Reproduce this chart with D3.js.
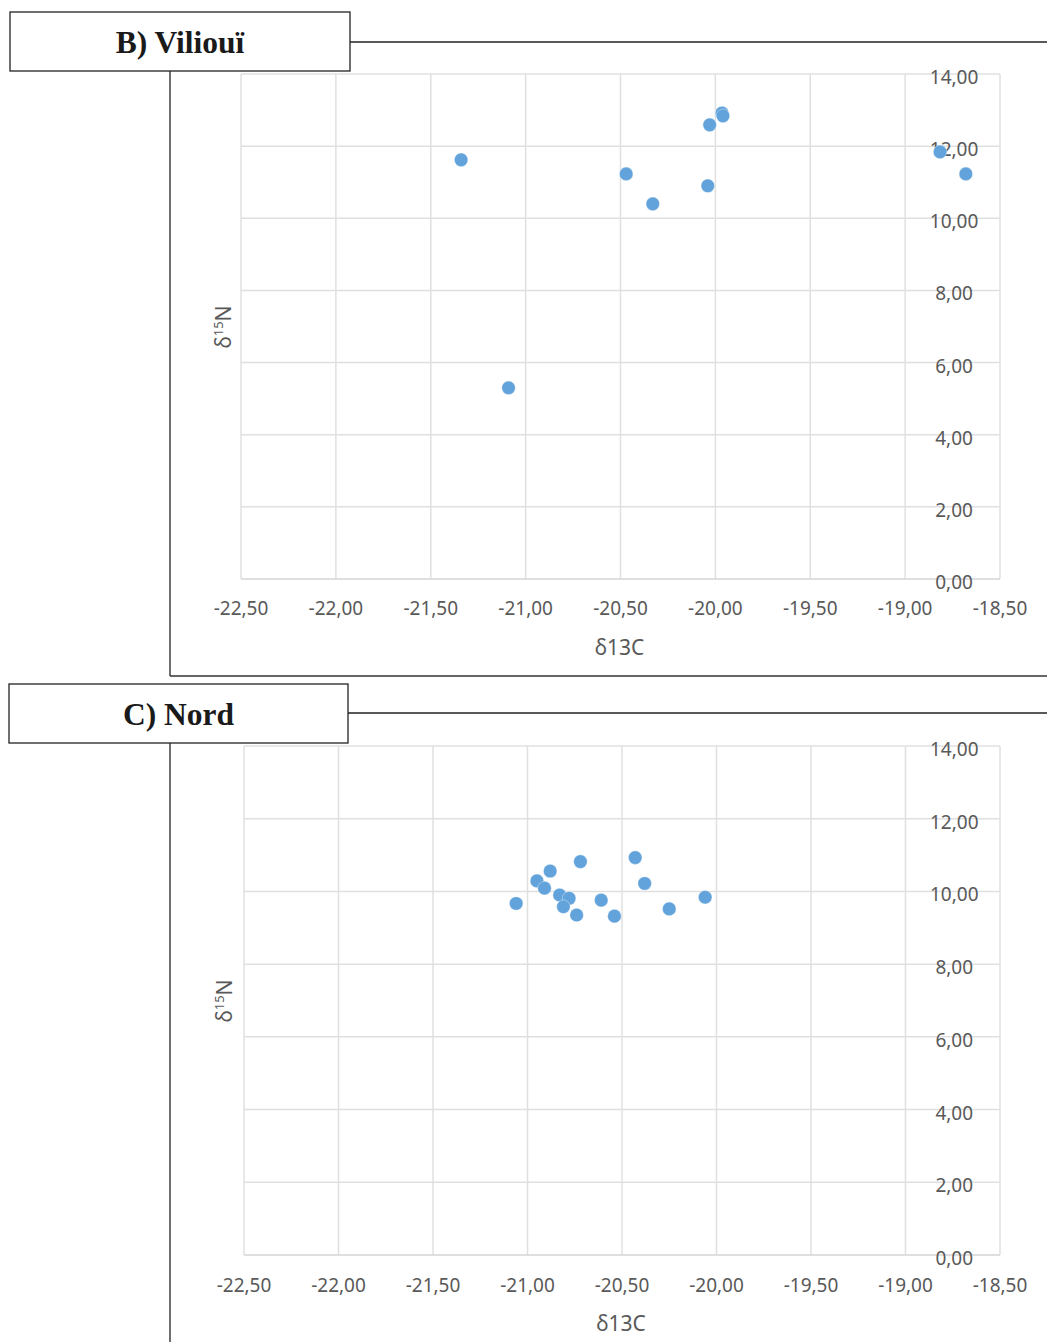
<!DOCTYPE html>
<html>
<head>
<meta charset="utf-8">
<script src="https://cdn.jsdelivr.net/npm/d3@7"></script>
<style>
html,body{margin:0;padding:0;background:#fff;}
svg{display:block;}
</style>
</head>
<body>
<svg id="chart" width="1047" height="1342"></svg>
<script>
// ---- data ----
const xTicks = [-22.5, -22, -21.5, -21, -20.5, -20, -19.5, -19, -18.5];
const yTicks = [0, 2, 4, 6, 8, 10, 12, 14];
const titleB = "B) Viliouï";
const titleC = "C) Nord";
const xLabel = "δ13C";
const viliouiX = [-21.34, -21.09, -20.47, -20.33, -20.04, -20.03, -19.965, -19.96, -18.816, -18.68];
const viliouiY = [11.62, 5.30, 11.23, 10.40, 10.90, 12.59, 12.92, 12.84, 11.84, 11.23];
const nordX = [-21.06, -20.95, -20.91, -20.88, -20.72, -20.83, -20.78, -20.81, -20.74, -20.61, -20.54, -20.43, -20.38, -20.25, -20.06];
const nordY = [9.67, 10.29, 10.09, 10.56, 10.82, 9.90, 9.81, 9.58, 9.35, 9.76, 9.32, 10.93, 10.22, 9.52, 9.84];

const fmt = v => d3.format(".2f")(v).replace(".", ",").replace("\u2212", "-");
const svg = d3.select("#chart");

function panel(cfg) {
  const g = svg.append("g");
  // frame lines
  g.append("line").attr("x1", 170).attr("x2", 170).attr("y1", cfg.boxB).attr("y2", cfg.frameBottom)
    .attr("stroke", "#222").attr("stroke-width", 1.3);
  if (cfg.drawBottom) {
    g.append("line").attr("x1", 170).attr("x2", 1047).attr("y1", cfg.frameBottom).attr("y2", cfg.frameBottom)
      .attr("stroke", "#333").attr("stroke-width", 1.6);
  }
  g.append("line").attr("x1", cfg.boxR).attr("x2", 1047).attr("y1", cfg.lineY).attr("y2", cfg.lineY)
    .attr("stroke", "#222").attr("stroke-width", 1.3);
  g.append("rect").attr("x", cfg.boxL).attr("y", cfg.boxT).attr("width", cfg.boxR - cfg.boxL)
    .attr("height", cfg.boxB - cfg.boxT).attr("fill", "#fff").attr("stroke", "#222").attr("stroke-width", 1.3);
  g.append("text").attr("x", (cfg.boxL + cfg.boxR) / 2).attr("y", cfg.boxT + 41)
    .attr("text-anchor", "middle").attr("font-family", "Liberation Serif, Times New Roman, serif")
    .attr("font-weight", "bold").attr("font-size", 31.5).attr("fill", "#1a1a1a").text(cfg.title);

  const x = d3.scaleLinear().domain([-22.5, -18.5]).range([cfg.left, cfg.right]);
  const y = d3.scaleLinear().domain([0, 14]).range([cfg.bottom, cfg.top]);

  // grid
  g.append("g").selectAll("line").data(xTicks).join("line")
    .attr("x1", d => x(d)).attr("x2", d => x(d)).attr("y1", y(0)).attr("y2", y(14))
    .attr("stroke", "#e0e0e0").attr("stroke-width", 1.5);
  g.append("g").selectAll("line").data(yTicks).join("line")
    .attr("x1", x(-22.5)).attr("x2", x(-18.5)).attr("y1", d => y(d)).attr("y2", d => y(d))
    .attr("stroke", d => d === 0 ? "#d4d4d4" : "#e0e0e0").attr("stroke-width", 1.5);

  // x tick labels
  g.append("g").selectAll("text").data(xTicks).join("text")
    .attr("x", d => x(d)).attr("y", cfg.bottom + cfg.xLabDy)
    .attr("text-anchor", "middle").attr("font-family", "Noto Sans, sans-serif")
    .attr("font-size", 19).attr("fill", "#595959").text(fmt);
  // y tick labels
  g.append("g").selectAll("text").data(yTicks).join("text")
    .attr("x", x(-18.75) + 1.5).attr("y", d => y(d) + 10)
    .attr("text-anchor", "middle").attr("font-family", "Noto Sans, sans-serif")
    .attr("font-size", 19).attr("fill", "#595959").text(fmt);

  // axis titles
  g.append("text").attr("x", (cfg.left + cfg.right) / 2 - 1).attr("y", cfg.bottom + cfg.xTitleDy)
    .attr("text-anchor", "middle").attr("font-family", "Noto Sans, sans-serif")
    .attr("font-size", 21).attr("fill", "#595959").text(xLabel);
  const yt = g.append("text").attr("transform", `translate(${cfg.yTitleX},${cfg.yTitleY}) rotate(-90)`)
    .attr("text-anchor", "middle").attr("font-family", "Noto Sans, sans-serif")
    .attr("font-size", 21).attr("fill", "#595959");
  yt.append("tspan").text("δ");
  yt.append("tspan").attr("font-size", 13).attr("dy", -8).text("15");
  yt.append("tspan").attr("dy", 8).text("N");

  // points
  g.append("g").selectAll("circle").data(cfg.xs.map((v, i) => [v, cfg.ys[i]])).join("circle")
    .attr("cx", d => x(d[0])).attr("cy", d => y(d[1])).attr("r", 6.8)
    .attr("fill", "#62a3db").attr("stroke", "#ffffff").attr("stroke-width", 0.6).attr("stroke-opacity", 0.6);
}

panel({
  title: titleB, boxL: 10, boxT: 12, boxR: 350, boxB: 71, lineY: 42,
  frameBottom: 676, drawBottom: true,
  left: 241, right: 1000, top: 74, bottom: 579,
  xLabDy: 36, xTitleDy: 76, yTitleX: 231, yTitleY: 327,
  xs: viliouiX, ys: viliouiY
});
panel({
  title: titleC, boxL: 9, boxT: 684, boxR: 348, boxB: 743, lineY: 713,
  frameBottom: 1342, drawBottom: false,
  left: 244, right: 1000, top: 746, bottom: 1255,
  xLabDy: 37, xTitleDy: 76, yTitleX: 232, yTitleY: 1001,
  xs: nordX, ys: nordY
});
</script>
</body>
</html>
